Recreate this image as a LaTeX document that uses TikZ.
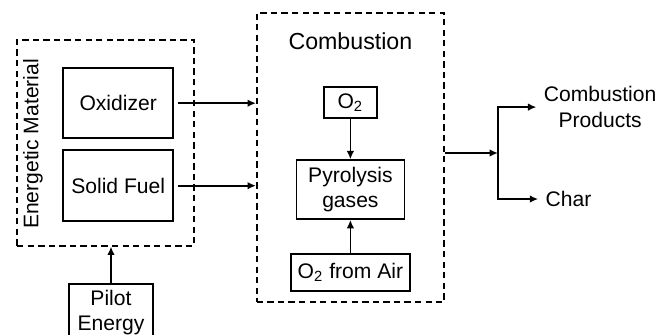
\documentclass[tikz,border=0pt]{standalone}
\usepackage{fontspec}
\setmainfont{Liberation Sans}
\usepackage{tikz}
\usetikzlibrary{arrows.meta, positioning, calc}
\tikzset{
  %% ---- boxes ----
  box/.style    = {rectangle, draw=black, line width=0.85pt,
                   align=center, inner sep=2pt},
  group/.style  = {rectangle, draw=black, line width=0.8pt,
                   dash pattern=on 3pt off 2pt},
  %% ---- arrows ----
  arr/.style    = {-{Latex[length=4pt, width=3.6pt]}, line width=0.8pt},
}

\begin{document}
\begin{tikzpicture}[
  node distance = 0.17cm and 1cm,
  every node/.style = {font=\fontsize{10}{12}\selectfont},
  title/.style = {font=\fontsize{11}{13}\selectfont}
]
\useasboundingbox (0,0) rectangle (11.2,-5.583);

% Energetic material group with its two parts
\node[box, minimum width=1.83cm, minimum height=1.17cm]
  (ox) at (1.97,-1.72) {Oxidizer};
\node[box, minimum width=1.83cm, minimum height=1.18cm,
      below=0.17cm of ox]
  (fuel) {Solid Fuel};
\node[group, minimum width=2.95cm, minimum height=3.43cm]
  (emat) at (1.76,-2.38) {};
\node[rotate=90] (ematlbl) at (0.55,-2.4) {Energetic Material};

% Pilot energy below the group
\node[box, minimum width=1.4cm, minimum height=0.96cm]
  (pilot) at (1.85,-5.21) {Pilot\\Energy};

% Combustion group
\node[group, minimum width=3.12cm, minimum height=4.82cm]
  (comb) at (5.84,-2.625) {};
\node[title, below=0.22cm of comb.north] (combttl) {Combustion};
\node[box, minimum width=0.88cm, minimum height=0.52cm]
  (otwo) at (5.84,-1.71) {O\textsubscript{2}};
\node[box, minimum width=1.8cm, minimum height=0.98cm,
      below=0.67cm of otwo]
  (pyro) {Pyrolysis\\gases};
\node[box, minimum width=1.98cm, minimum height=0.62cm,
      below=0.55cm of pyro]
  (air) {O\textsubscript{2} from Air};

% Outputs
\coordinate (split) at (8.3,-2.55);
\node[anchor=west, align=center] (prod) at (8.94,-1.785) {Combustion\\Products};
\node[anchor=west] (char) at (8.97,-3.317) {Char};

% Arrows
\draw[arr, shorten <=2pt] (ox.east)   -- (ox.east -| comb.west);
\draw[arr, shorten <=2pt] (fuel.east) -- (fuel.east -| comb.west);
\draw[arr] (pilot.north) -- (pilot.north |- emat.south);
\draw[arr] (otwo) -- (pyro);
\draw[arr] (air)  -- (pyro);
\draw[arr] (comb.east |- split) -- (split);
\draw[arr] (split) |- (prod.west);
\draw[arr] (split) |- (char.west);

\end{tikzpicture}
\end{document}
